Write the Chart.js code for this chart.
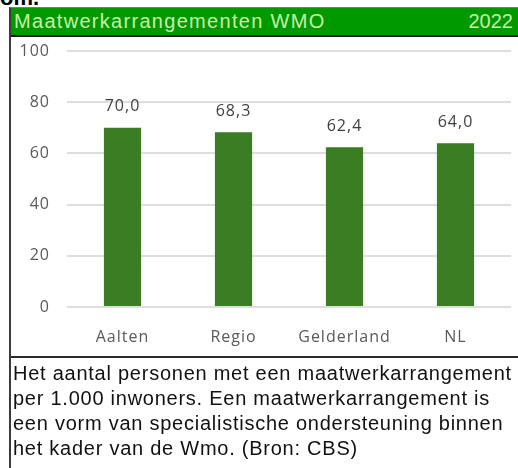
<!DOCTYPE html>
<html>
<head>
<meta charset="utf-8">
<script src="https://cdn.jsdelivr.net/npm/chart.js@4"></script>
<style>
  html, body { margin: 0; padding: 0; background: #fff; }
  body { width: 518px; height: 468px; position: relative; overflow: hidden; font-family: "Liberation Sans", Arial, sans-serif; }
  #clip { position: absolute; left: 0; top: -15px; font: bold 22px "Liberation Sans", Arial, sans-serif; color: #000; }
  #frame { position: absolute; left: 9px; top: 7px; width: 520px; height: 470px; border-left: 2px solid #3a3a3a; border-top: 1px solid #7a7a7a; }
  #header { position: absolute; left: 11px; top: 8px; width: 507px; height: 27px; background: #009900; border-bottom: 2px solid #1a1a1a; color: #c8f0a8; font-size: 20px; line-height: 27px; }
  #header .title { position: absolute; left: 3px; letter-spacing: 1.3px; }
  #header .year { position: absolute; right: 5px; }
  #chartBox { position: absolute; left: 11px; top: 37px; width: 507px; height: 320px; }
  #sep { position: absolute; left: 11px; top: 356px; width: 507px; height: 0; border-top: 2px solid #2a2a2a; }
  #note { position: absolute; left: 13px; top: 361px; width: 505px; font-size: 20px; line-height: 25px; color: #111; white-space: nowrap; letter-spacing: 0.75px; }
</style>
</head>
<body>
<div id="clip">om.</div>
<div id="frame"></div>
<div id="header"><span class="title">Maatwerkarrangementen WMO</span><span class="year">2022</span></div>
<div id="chartBox"><canvas id="grafiek"></canvas></div>
<div id="sep"></div>
<div id="note">Het aantal personen met een maatwerkarrangement<br>per 1.000 inwoners. Een maatwerkarrangement is<br>een vorm van specialistische ondersteuning binnen<br>het kader van de Wmo. (Bron: CBS)</div>
<script>
const categorieen = ['Aalten', 'Regio', 'Gelderland', 'NL'];
const waarden = [70.0, 68.3, 62.4, 64.0];
const yTicks = [0, 20, 40, 60, 80, 100];

const tekstKleur = '#595959';
const fontFam = '"Open Sans", "Liberation Sans", sans-serif';

// iets ruimere letterafstand, zoals in het origineel
const spatiering = {
  id: 'spatiering',
  beforeDraw(chart) { chart.ctx.letterSpacing = '1px'; },
  afterDraw(chart) { chart.ctx.letterSpacing = '0px'; }
};

const waardeLabels = {
  id: 'waardeLabels',
  afterDatasetsDraw(chart) {
    const ctx = chart.ctx;
    const meta = chart.getDatasetMeta(0);
    ctx.save();
    ctx.font = '16px ' + fontFam;
    ctx.fillStyle = '#404040';
    ctx.textAlign = 'center';
    ctx.textBaseline = 'middle';
    meta.data.forEach((bar, i) => {
      const tekst = waarden[i].toFixed(1).replace('.', ',');
      ctx.fillText(tekst, bar.x, bar.y - 21);
    });
    ctx.restore();
  }
};

new Chart(document.getElementById('grafiek').getContext('2d'), {
  type: 'bar',
  data: {
    labels: categorieen,
    datasets: [{
      data: waarden,
      backgroundColor: '#3a7d22',
      borderWidth: 0,
      categoryPercentage: 1,
      barPercentage: 0.335
    }]
  },
  options: {
    responsive: true,
    maintainAspectRatio: false,
    animation: false,
    layout: { padding: { top: 14, right: 7, bottom: 0, left: 0 } },
    plugins: {
      legend: { display: false },
      tooltip: { enabled: false }
    },
    scales: {
      x: {
        grid: { display: false, drawTicks: false },
        border: { display: false },
        ticks: { color: tekstKleur, font: { family: fontFam, size: 16 }, padding: 21, maxRotation: 0 },
        afterFit(scale) { scale.height = 50; }
      },
      y: {
        min: 0,
        max: 100,
        afterBuildTicks(scale) { scale.ticks = yTicks.map(v => ({ value: v })); },
        grid: { color: '#dedede', lineWidth: 2, drawTicks: false },
        border: { display: false },
        ticks: { color: tekstKleur, font: { family: fontFam, size: 16 }, padding: 17 },
        afterFit(scale) {
          scale.width = 56;
          scale.paddingTop = 0;
          scale.paddingBottom = 0;
        }
      }
    }
  },
  plugins: [spatiering, waardeLabels]
});
</script>
</body>
</html>
